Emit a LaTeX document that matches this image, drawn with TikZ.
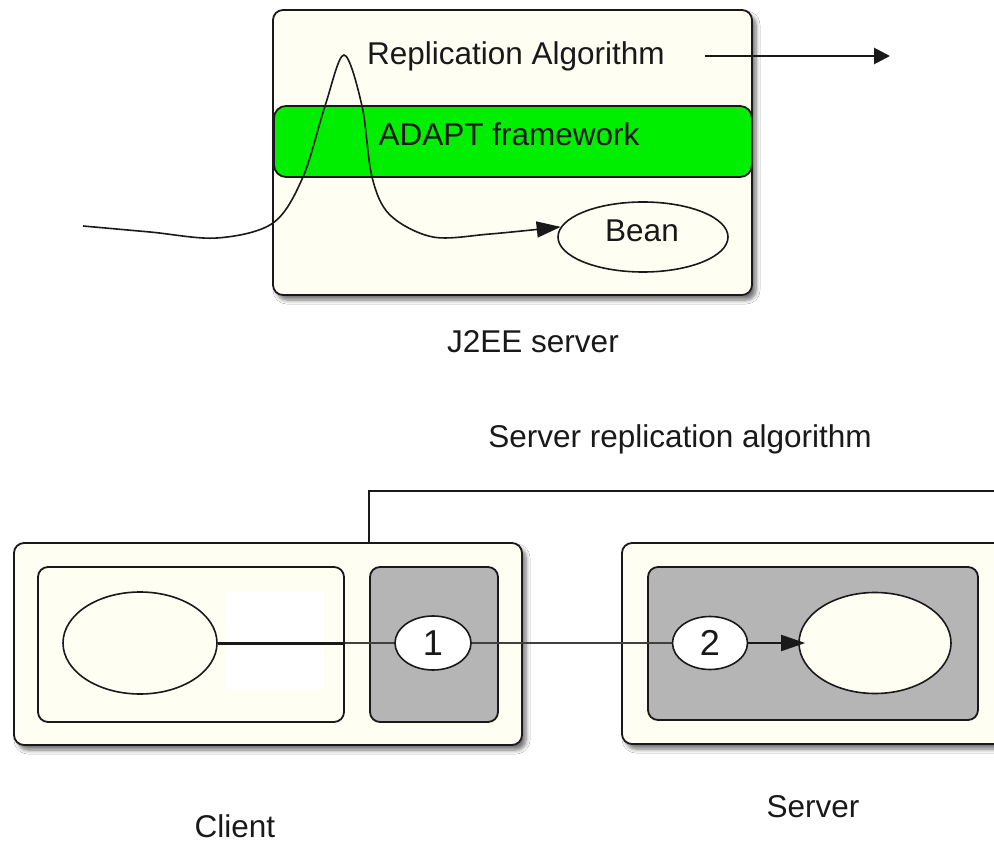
\documentclass[tikz,border=0pt]{standalone}
\usepackage{fontspec}
\setmainfont{Liberation Sans}
\usetikzlibrary{arrows.meta,shadows.blur,shapes.geometric}

\definecolor{cream}{RGB}{255,254,242}
\definecolor{adaptgreen}{RGB}{0,238,0}
\definecolor{midgray}{RGB}{181,181,181}
\definecolor{ink}{RGB}{25,25,25}

\begin{document}
\begin{tikzpicture}[x=1pt,y=-1pt,
  every node/.style={font=\fontsize{31.5}{38}\selectfont, text=ink},
  panel/.style={rectangle, draw=ink, line width=1.8pt, fill=cream,
    rounded corners=10pt, inner sep=0pt},
  shadowed/.style={blur shadow={shadow xshift=4pt, shadow yshift=-5pt,
    shadow blur radius=4pt, shadow blur steps=6, shadow opacity=55}},
  grayzone/.style={panel, fill=midgray},
  band/.style={panel, fill=adaptgreen, rounded corners=12pt},
  blob/.style={ellipse, draw=ink, line width=1.6pt, fill=cream, inner sep=0pt},
  marker/.style={ellipse, draw=ink, line width=1.6pt, fill=white, inner sep=0pt,
    font=\fontsize{36}{40}\selectfont},
  caption/.style={anchor=base, inner sep=0pt},
  flow/.style={draw=ink, line width=1.9pt},
  tip/.style={-{Triangle[length=24pt,width=16pt]}}
]
\clip (0,0) rectangle (994,842);
\fill[white] (0,0) rectangle (994,842);

% ---------- J2EE server ----------
\node[panel, shadowed, minimum width=479, minimum height=285] (j2ee) at (512.5,152.5) {};
\node[band, minimum width=478, minimum height=71] (adapt) at (513,141.5) {};
\node[caption] (ratext) at (516,65) {Replication Algorithm};
\node[caption] (adapttext) at (509,146) {ADAPT framework};
\node[blob, minimum width=170, minimum height=70] (bean) at (643,237) {};
\node[caption] (beantext) at (642,242) {Bean};
\node[caption] (j2eetext) at (533,353) {J2EE server};

\coordinate (wstart) at (83,226);
\coordinate (arrowstart) at (705,56);
\coordinate (outgoing) at (890,56);
\draw[ink, line width=1.6pt, tip]
  plot[smooth, tension=0.55] coordinates {(wstart) (150,232) (217,238) (273,223)
    (303,177) (325,106) (344,55) (362,106) (372,177) (390,215) (433,237)
    (490,234) (bean.173)};
\draw[ink, line width=2.8pt, -{Triangle[length=16pt,width=16pt]}]
  (arrowstart) -- (outgoing);

% ---------- client / server ----------
\node[caption] (algtext) at (680,447) {Server replication algorithm};

\node[panel, shadowed, minimum width=508, minimum height=202] (client) at (268,644) {};
\node[panel, minimum width=306, minimum height=155] (inner) at (191,644.5) {};
\node[grayzone, minimum width=128, minimum height=155] (g1) at (434,644.5) {};
\fill[white] (226,592) rectangle (323,689);
\node[blob, minimum width=154, minimum height=102] (e0) at (140,643) {};

\node[panel, shadowed, minimum width=398, minimum height=201] (server) at (821,643.5) {};
\node[grayzone, minimum width=330, minimum height=153] (g2) at (813,643.5) {};
\node[blob, minimum width=152, minimum height=101] (e3) at (875,643) {};

\node[caption] (clienttext) at (235,837) {Client};
\node[caption] (servertext) at (813,817) {Server};

\coordinate (algend) at (1000,491);
\draw[flow, line width=1.8pt] (client.north -| g1.west) |- (algend);

\draw[flow, line width=3pt] (e0.east) -- (inner.east |- e0.east);
\draw[flow, draw=black!75] (inner.east |- e0.east) -- (e3.west);

\node[marker, minimum width=76, minimum height=54] (e1) at (433,643) {1};
\node[marker, minimum width=75, minimum height=53] (e2) at (710,643) {2};
\draw[flow, tip, shorten >=-7pt] (e2.east) -- (e3.west);
\end{tikzpicture}
\end{document}
